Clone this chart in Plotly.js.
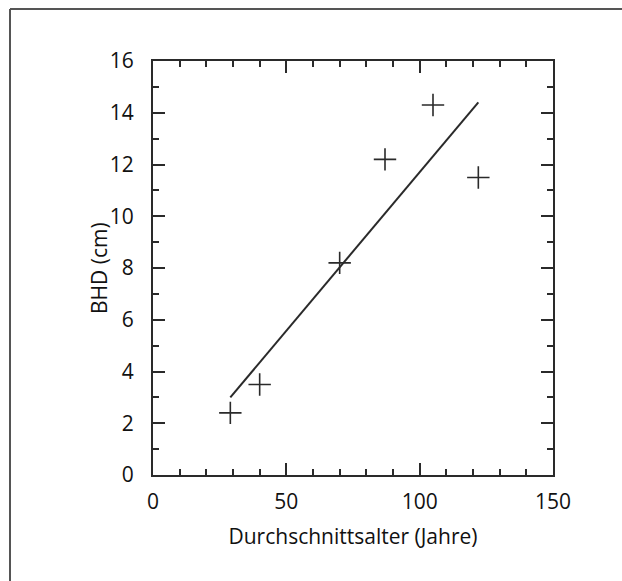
<!DOCTYPE html>
<html>
<head>
<meta charset="utf-8">
<script src="https://cdn.plot.ly/plotly-3.0.1.min.js"></script>
<style>html,body{margin:0;padding:0;background:#fff;}#chart{width:622px;height:581px;}</style>
</head>
<body>
<div id="chart"></div>
<script>
// Data
const ageYears = [29, 40, 70, 87, 105, 122];
const dbhCm = [2.4, 3.5, 8.2, 12.2, 14.3, 11.5];
const fitX = [29, 122];
const fitY = [3.0, 14.4];
const xTickVals = [0, 50, 100, 150];
const yTickVals = [0, 2, 4, 6, 8, 10, 12, 14, 16];

const ink = '#2a2a2a';
const fontFam = '"Open Sans", "Noto Sans", sans-serif';

const traces = [
  {
    x: fitX, y: fitY, mode: 'lines', type: 'scatter',
    line: {color: ink, width: 2}, hoverinfo: 'skip', showlegend: false
  },
  {
    x: ageYears, y: dbhCm, mode: 'markers', type: 'scatter',
    marker: {symbol: 'cross-thin-open', size: 16, color: ink, line: {color: ink, width: 1.6}},
    showlegend: false
  }
];

const axisCommon = {
  showgrid: false, zeroline: false, showline: true, linecolor: ink, linewidth: 2,
  mirror: 'allticks', ticks: 'inside', ticklen: 12, tickwidth: 2, tickcolor: ink,
  tickfont: {family: fontFam, size: 21, color: '#111'}
};

const layout = {
  width: 622, height: 581,
  margin: {l: 153, r: 69, t: 61, b: 106},
  paper_bgcolor: '#fff', plot_bgcolor: '#fff',
  font: {family: fontFam, color: '#111'},
  xaxis: Object.assign({}, axisCommon, {
    range: [0, 150], tickvals: xTickVals, ticktext: xTickVals.map(String),
    ticklabelstandoff: 7,
    minor: {dtick: 10, tick0: 0, ticks: 'inside', ticklen: 6, tickwidth: 2, tickcolor: ink},
    title: {text: 'Durchschnittsalter (Jahre)', font: {family: fontFam, size: 21, color: '#111'}, standoff: 15}
  }),
  yaxis: Object.assign({}, axisCommon, {
    range: [0, 16], tickvals: yTickVals, ticktext: yTickVals.map(String),
    ticklabelstandoff: 13,
    minor: {dtick: 1, tick0: 0, ticks: 'inside', ticklen: 6, tickwidth: 2, tickcolor: ink}
  }),
  annotations: [
    {text: 'BHD (cm)', xref: 'paper', yref: 'paper', x: -0.135, y: 0.5, textangle: -90,
     showarrow: false, xanchor: 'center', yanchor: 'middle',
     font: {family: fontFam, size: 21, color: '#111'}}
  ],
  shapes: [
    {type: 'line', xref: 'paper', yref: 'paper', x0: -0.3575, x1: -0.3575, y0: -0.3, y1: 1.1256,
     line: {color: '#555', width: 2}},
    {type: 'line', xref: 'paper', yref: 'paper', x0: -0.3575, x1: 1.2, y0: 1.1256, y1: 1.1256,
     line: {color: '#555', width: 2}}
  ]
};

Plotly.newPlot('chart', traces, layout, {displayModeBar: false, staticPlot: true});
</script>
</body>
</html>
